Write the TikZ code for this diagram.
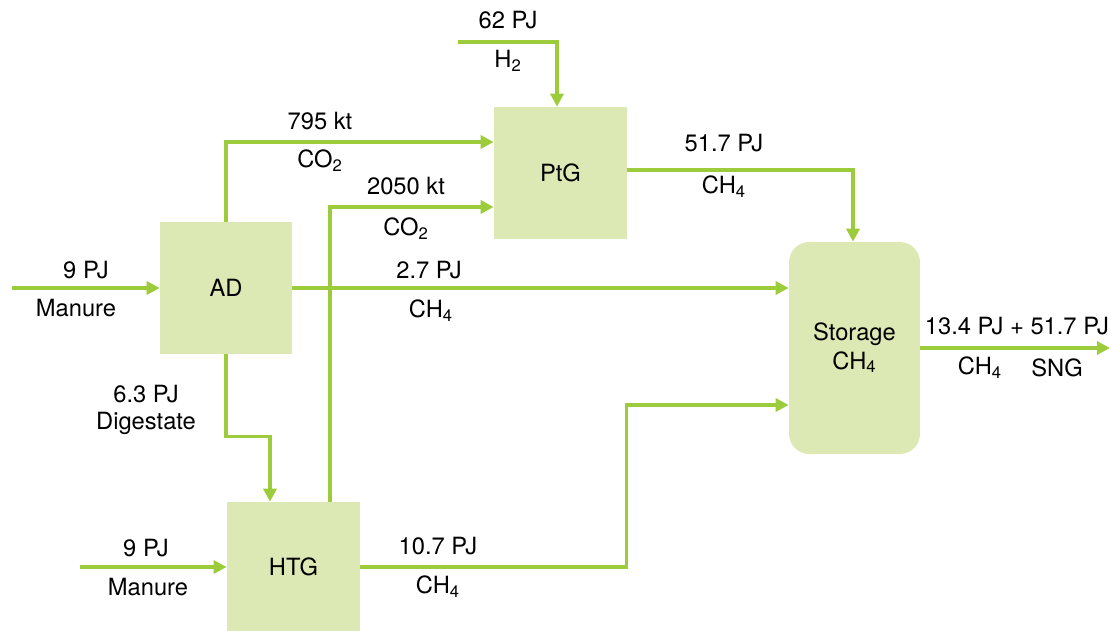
\documentclass[tikz,border=0pt]{standalone}
\usepackage{fontspec}
\setmainfont{TeX Gyre Heros}
\usepackage{tikz}
\usetikzlibrary{arrows.meta}
\definecolor{boxgreen}{HTML}{DDE9B4}
\definecolor{flowgreen}{HTML}{9CCB3B}

\begin{document}
\begin{tikzpicture}[x=0.02cm,y=-0.02cm,
        font=\fontsize{13.5}{16}\selectfont,
        unit/.style={fill=boxgreen, inner sep=0pt},
        flow/.style={draw=flowgreen, line width=2pt, -{Triangle[length=0.26cm,width=0.26cm]}}]
        \useasboundingbox (0,0) rectangle (1110,630);

        % --- PROCESS BOXES ---
        \node[unit, minimum width=2.64cm, minimum height=2.64cm] (ad) at (226,288) {AD};
        \node[unit, minimum width=2.66cm, minimum height=2.64cm] (ptg) at (560.5,173) {PtG};
        \node[unit, minimum width=2.66cm, minimum height=2.6cm] (htg) at (293.5,567) {HTG};
        \node[unit, minimum width=2.62cm, minimum height=4.24cm, rounded corners=0.4cm, align=center] (store) at (854.5,348) {Storage\\CH\textsubscript{4}};

        % --- FREE ENDS ---
        \coordinate (manA) at (12,288);
        \coordinate (manH) at (80,567);
        \coordinate (h2in) at (458,42);
        \coordinate (sng) at (1110,348);

        % --- FLOWS ---
        \draw[flow] (manA) -- (ad.west);
        \draw[flow] (manH) -- (htg.west);
        \draw[flow] (ad.east) -- (ad.east -| store.west);
        \draw[flow] (ad.north) |- ([yshift=0.62cm]ptg.west);
        \draw[flow] ([xshift=0.73cm]htg.north) |- ([yshift=-0.68cm]ptg.west);
        \draw[flow] (h2in) -| ([xshift=-0.07cm]ptg.north);
        \draw[flow] ([yshift=0.06cm]ptg.east) -| ([xshift=-0.03cm]store.north);
        \draw[flow] (ad.south) -- ++(0,-1.64cm) -| ([xshift=-0.47cm]htg.north);
        \draw[flow] (htg.east) -- ++(5.32cm,0) |- ([yshift=-1.14cm]store.west);
        \draw[flow] (store.east) -- (sng);

        % --- LABELS ---
        \node (l1a) at (86,270) {9 PJ};
        \node (l1b) at (76,308) {Manure};
        \node (l2a) at (320,121) {795 kt};
        \node (l2b) at (320,161) {CO\textsubscript{2}};
        \node (l3a) at (406,186) {2050 kt};
        \node (l3b) at (406,229) {CO\textsubscript{2}};
        \node (l4a) at (508,20) {62 PJ};
        \node (l4b) at (508,61) {H\textsubscript{2}};
        \node (l5a) at (724,143) {51.7 PJ};
        \node (l5b) at (724,187) {CH\textsubscript{4}};
        \node (l6a) at (429,270) {2.7 PJ};
        \node (l6b) at (431,311) {CH\textsubscript{4}};
        \node (l7a) at (146,394) {6.3 PJ};
        \node (l7b) at (146,423) {Digestate};
        \node (l8a) at (146,548) {9 PJ};
        \node (l8b) at (148,587) {Manure};
        \node (l9a) at (438,546) {10.7 PJ};
        \node (l9b) at (438,587) {CH\textsubscript{4}};
        \node (l10a) at (1017,326) {13.4 PJ + 51.7 PJ};
        \node (l10b) at (980,368) {CH\textsubscript{4}};
        \node (l10c) at (1057,368) {SNG};
    \end{tikzpicture}
\end{document}
